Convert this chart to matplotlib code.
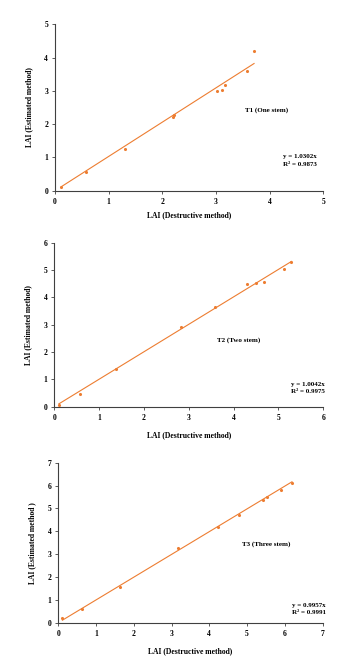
import numpy as np
import matplotlib.pyplot as plt

# T1 (One stem)
t1_x = [0.12, 0.57, 1.30, 2.19, 2.21, 3.02, 3.11, 3.17, 3.57, 3.71]
t1_y = [0.10, 0.56, 1.25, 2.22, 2.27, 3.00, 3.03, 3.18, 3.60, 4.19]
# T2 (Two stem)
t2_x = [0.10, 0.57, 1.38, 2.82, 3.58, 4.30, 4.51, 4.68, 5.12, 5.29]
t2_y = [0.06, 0.48, 1.38, 2.90, 3.63, 4.48, 4.51, 4.55, 5.02, 5.29]
# T3 (Three stem)
t3_x = [0.11, 0.64, 1.63, 3.18, 4.24, 4.80, 5.42, 5.54, 5.89, 6.19]
t3_y = [0.20, 0.58, 1.57, 3.28, 4.20, 4.69, 5.38, 5.51, 5.82, 6.11]

slopes = [1.0302, 1.0042, 0.9957]
r2 = ["0.9873", "0.9975", "0.9991"]
titles = ["T1 (One stem)", "T2 (Two stem)", "T3 (Three stem)"]
ylabels = ["LAI (Estimated method)", "LAI (Estimated method)", "LAI (Estimated method )"]
limits = [5, 6, 7]

plt.rcParams['font.family'] = 'Liberation Serif'
plt.rcParams['font.weight'] = 'bold'
orange = '#ED7D31'

fig = plt.figure(figsize=(3.62, 6.59), dpi=100)
rects = [[0.152, 0.7106, 0.741, 0.2525],
         [0.150, 0.3829, 0.743, 0.2489],
         [0.161, 0.0551, 0.730, 0.2428]]
title_pos = [(0.708, 0.485), (0.604, 0.407), (0.697, 0.49)]
eq_pos = [(0.851, 0.204, 0.16), (0.88, 0.137, 0.09), (0.885, 0.109, 0.061)]
xpads = [4, 7, 7]

data = [(t1_x, t1_y), (t2_x, t2_y), (t3_x, t3_y)]
for i, (xs, ys) in enumerate(data):
    ax = fig.add_axes(rects[i])
    xs = np.array(xs)
    ax.scatter(xs, ys, s=5, color=orange, zorder=3, linewidths=0)
    xl = np.array([xs.min(), xs.max()])
    ax.plot(xl, slopes[i] * xl, color=orange, lw=0.8)
    ax.set_xlim(0, limits[i])
    ax.set_ylim(0, limits[i])
    ax.set_xticks(range(limits[i] + 1))
    ax.set_yticks(range(limits[i] + 1))
    for s in ['top', 'right']:
        ax.spines[s].set_visible(False)
    for s in ['left', 'bottom']:
        ax.spines[s].set_color('#404040')
        ax.spines[s].set_linewidth(0.8)
    ax.tick_params(labelsize=5.5, length=2, width=0.6, color='#404040', pad=3)
    for lab in ax.get_xticklabels() + ax.get_yticklabels():
        lab.set_fontweight('bold')
    ax.set_xlabel("LAI (Destructive method)", fontsize=5.5, fontweight='bold', labelpad=xpads[i])
    ax.set_ylabel(ylabels[i], fontsize=5.5, fontweight='bold', labelpad=8)
    tx, ty = title_pos[i]
    ax.text(tx, ty, titles[i], transform=ax.transAxes, fontsize=5, fontweight='bold', va='center')
    ex, ey1, ey2 = eq_pos[i]
    ax.text(ex, ey1, "y = %.4fx" % slopes[i], transform=ax.transAxes, fontsize=5, fontweight='bold', va='center')
    ax.text(ex, ey2, "R\u00b2 = " + r2[i], transform=ax.transAxes, fontsize=5, fontweight='bold', va='center')

fig.savefig("out.png", dpi=100)
